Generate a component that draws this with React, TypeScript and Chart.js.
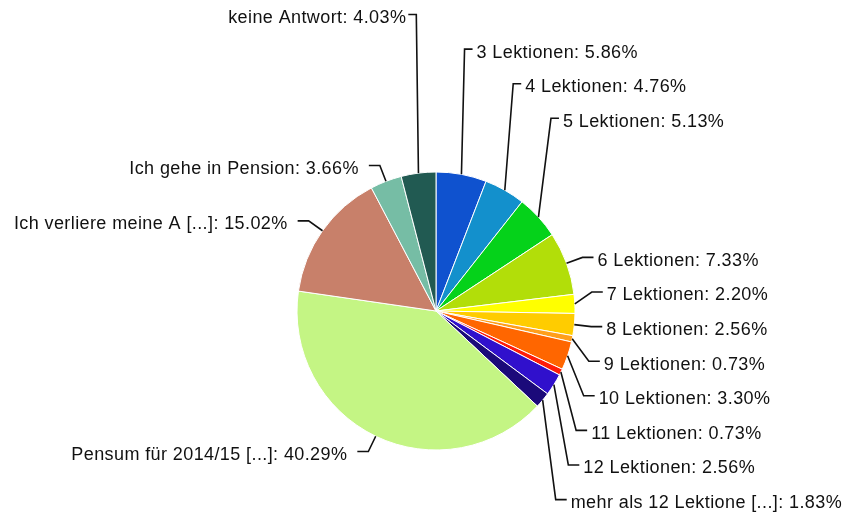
import React, { useEffect, useRef } from "react";
import { Chart, registerables } from "chart.js";

Chart.register(...registerables);

const categories = [
  "3 Lektionen",
  "4 Lektionen",
  "5 Lektionen",
  "6 Lektionen",
  "7 Lektionen",
  "8 Lektionen",
  "9 Lektionen",
  "10 Lektionen",
  "11 Lektionen",
  "12 Lektionen",
  "mehr als 12 Lektione [...]",
  "Pensum für 2014/15 [...]",
  "Ich verliere meine A [...]",
  "Ich gehe in Pension",
  "keine Antwort",
];

const percentages = [5.86, 4.76, 5.13, 7.33, 2.2, 2.56, 0.73, 3.3, 0.73, 2.56, 1.83, 40.29, 15.02, 3.66, 4.03];

const sliceColors = [
  "#0f52cf",
  "#1390cc",
  "#05d21a",
  "#b2de09",
  "#ffff00",
  "#ffcc00",
  "#ff9f1c",
  "#ff6600",
  "#ff1c0a",
  "#3010cc",
  "#1b0a7a",
  "#c4f584",
  "#c8806a",
  "#76bda5",
  "#215a52",
];

const labelPlugin = {
  id: "pieLabels",
  afterDatasetsDraw(chart: any) {
    const ctx = chart.ctx;
    const meta = chart.getDatasetMeta(0);
    const items: any[] = [];
    meta.data.forEach((arc: any, i: number) => {
      const { x, y, startAngle, endAngle, outerRadius } = arc.getProps(
        ["x", "y", "startAngle", "endAngle", "outerRadius"],
        true
      );
      const mid = (startAngle + endAngle) / 2;
      const c = Math.cos(mid);
      const s = Math.sin(mid);
      const ext = outerRadius + 17;
      let a = ((mid + Math.PI / 2) * 180) / Math.PI;
      a = ((a % 360) + 360) % 360;
      const right = c >= 0;
      items.push({
        i,
        right,
        a,
        ax: x + outerRadius * c,
        ay: y + outerRadius * s,
        ex: x + ext * c,
        ny: y + ext * s,
        text: `${categories[i]}: ${percentages[i].toFixed(2)}%`,
        stacked: (right && a < 50) || (!right && a > 345),
      });
    });
    const spacing = 34.6;
    const stacked = items
      .filter((d) => d.stacked)
      .sort((p, q) => Math.min(p.a, 360 - p.a) - Math.min(q.a, 360 - q.a));
    stacked.forEach((d, k) => {
      d.ly = 14.5 + k * spacing;
    });
    [true, false].forEach((side) => {
      const list = items.filter((d) => !d.stacked && d.right === side).sort((p, q) => p.ny - q.ny);
      let prev: number | null = null;
      list.forEach((d) => {
        if (prev === null) d.ly = d.ny;
        else if (d.ny - prev < spacing * 1.5) d.ly = prev + spacing;
        else d.ly = d.ny;
        prev = d.ly;
      });
    });

    ctx.save();
    ctx.strokeStyle = "#111";
    ctx.lineWidth = 1.6;
    ctx.fillStyle = "#111";
    ctx.font = '18px "Liberation Sans", Arial, sans-serif';
    (ctx as any).letterSpacing = "0.4px";
    ctx.textBaseline = "middle";
    items.forEach((d) => {
      const dir = d.right ? 1 : -1;
      const seg = d.stacked ? 8 : 11;
      ctx.beginPath();
      ctx.moveTo(d.ax, d.ay);
      ctx.lineTo(d.ex, d.ly);
      ctx.lineTo(d.ex + dir * seg, d.ly);
      ctx.stroke();
      const ty = d.ly + 3.5;
      if (d.right) {
        ctx.textAlign = "left";
        ctx.fillText(d.text, d.ex + seg + 4, ty);
      } else {
        ctx.textAlign = "right";
        ctx.fillText(d.text, d.ex - seg - (d.stacked ? 2 : 10), ty);
      }
    });
    ctx.restore();
  },
};

export default function App() {
  const ref = useRef<HTMLCanvasElement | null>(null);
  useEffect(() => {
    document.body.style.margin = "0";
    const chart = new Chart(ref.current as HTMLCanvasElement, {
      type: "pie",
      data: {
        labels: categories,
        datasets: [
          {
            data: percentages,
            backgroundColor: sliceColors,
            borderColor: "#ffffff",
            borderWidth: 1,
          },
        ],
      },
      options: {
        responsive: false,
        animation: false,
        layout: { padding: { left: 296.5, right: 269.5, top: 171.5, bottom: 65.5 } },
        plugins: {
          legend: { display: false },
          tooltip: { enabled: false },
        },
      },
      plugins: [labelPlugin],
    });
    return () => chart.destroy();
  }, []);
  return (
    <div style={{ width: 845, height: 516, background: "#fff" }}>
      <canvas ref={ref} width={845} height={516} />
    </div>
  );
}
